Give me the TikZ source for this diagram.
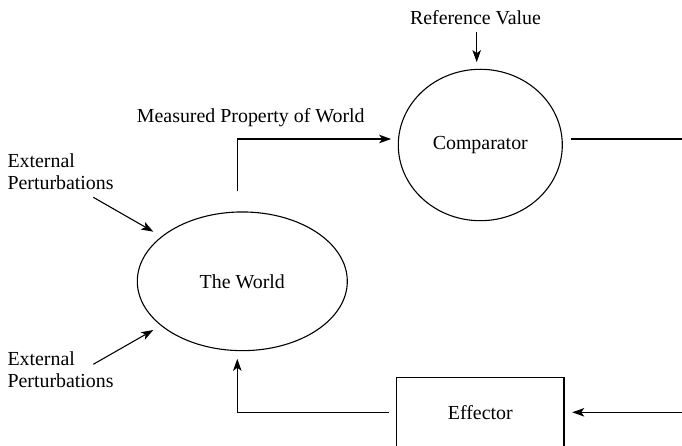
\documentclass[tikz,border=0pt]{standalone}
\usepackage{fontspec}
\setmainfont{Liberation Serif}
\usetikzlibrary{arrows.meta,shapes.geometric}
\begin{document}
\begin{tikzpicture}[x=1pt,y=-1pt,
  every node/.style={font=\fontsize{19.9}{22}\selectfont, inner sep=0pt},
  shapebox/.style={draw, line width=1.1pt},
  oval/.style={shapebox, ellipse},
  link/.style={line width=1.1pt},
  arr/.style={link, -{Stealth[length=12pt,width=8.5pt,inset=3pt]}},
  note/.style={align=left, anchor=base west}]
\clip (0,0) rectangle (682,446);

% blocks of the loop
\node[oval, minimum width=164pt, minimum height=151.4pt] (comp) at (480.3,145) {Comparator};
\node[oval, minimum width=210pt, minimum height=138.7pt] (world) at (242.3,281.3) {The World};
\node[shapebox, minimum width=167.3pt, minimum height=70.8pt] (eff) at (480.3,412.7) {Effector};

% labels (base of a two-line note is its last line)
\node[anchor=base] (ref) at (475.5,25) {Reference Value};
\node[anchor=base] (meas) at (250.8,122.3) {Measured Property of World};
\node[note] (pertA) at (7.3,190) {External\\Perturbations};
\node[note] (pertB) at (7.3,387.7) {External\\Perturbations};

% loop continues beyond the right edge
\coordinate (outR) at (682,139);
\coordinate (inR) at (682,412.3);

% connectors
\draw[arr] ([shift={(1.2,6.7)}]ref.base) -- ([shift={(-3.6,-6.6)}]comp.north);
\draw[arr] ([shift={(-5,-20)}]world.north) |- ([shift={(-6.6,-6)}]comp.west);
\draw[link] ([shift={(7.7,-6)}]comp.east) -- (outR);
\draw[arr] (inR) -- ([shift={(7.7,-0.4)}]eff.east);
\draw[arr] ([shift={(-7.4,-0.4)}]eff.west) -| ([shift={(-5,7.6)}]world.south);
\draw[arr] ([shift={(86,7.3)}]pertA.base west) -- ([shift={(-89,-49.6)}]world.center);
\draw[arr] ([shift={(86,-23.4)}]pertB.base west) -- ([shift={(-89,48.7)}]world.center);
\end{tikzpicture}
\end{document}
